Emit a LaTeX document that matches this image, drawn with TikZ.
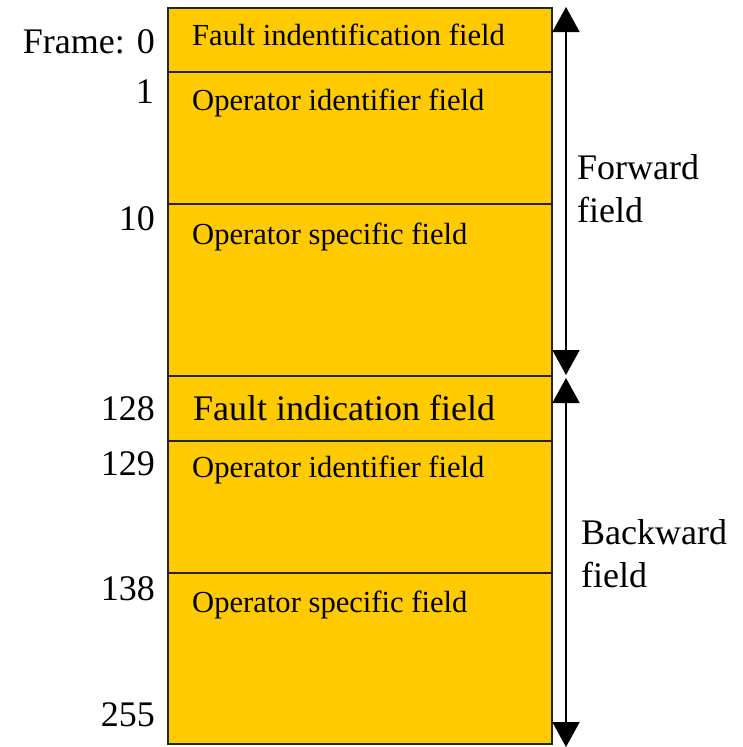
\documentclass[tikz,border=0pt]{standalone}
\usepackage{fontspec}
\setmainfont{LiberationSerif}[Extension=.ttf, UprightFont=*-Regular, BoldFont=*-Bold]
\usetikzlibrary{arrows.meta}
\definecolor{fieldfill}{RGB}{255,202,0}
\tikzset{
  field/.style={draw=black!85, line width=1.8pt, fill=fieldfill, inner sep=0pt,
                minimum width=384pt, anchor=north west},
  fieldtext/.style={inner sep=0pt, anchor=base west, font=\fontsize{30.6}{34}\selectfont},
  bigtext/.style={inner sep=0pt, anchor=base west, font=\fontsize{36}{40}\selectfont},
  framelabel/.style={inner sep=0pt, anchor=base east, font=\fontsize{36}{40}\selectfont},
  sidelabel/.style={inner sep=0pt, anchor=base west, align=left,
                    font=\fontsize{36}{43}\selectfont},
  span/.style={line width=1.8pt, {Triangle[length=25pt,width=27pt]}-{Triangle[length=25pt,width=27pt]}}
}
\begin{document}
\begin{tikzpicture}[x=1pt,y=-1pt]
\useasboundingbox (0,0) rectangle (742,747);

% frame fields, top to bottom
\node[field, minimum height=64pt]  (f0) at (167,7)   {};
\node[field, minimum height=132pt] (f1) at (167,71)  {};
\node[field, minimum height=172pt] (f2) at (167,203) {};
\node[field, minimum height=65pt]  (f3) at (167,375) {};
\node[field, minimum height=132pt] (f4) at (167,440) {};
\node[field, minimum height=171pt] (f5) at (167,572) {};

% field names
\node[fieldtext] (t0) at (192,45)  {Fault indentification field};
\node[fieldtext] (t1) at (192,110) {Operator identifier field};
\node[fieldtext] (t2) at (192,244) {Operator specific field};
\node[bigtext]   (t3) at (193,420) {Fault indication field};
\node[fieldtext] (t4) at (192,477) {Operator identifier field};
\node[fieldtext] (t5) at (192,612) {Operator specific field};

% frame numbers
\node[framelabel] (n0) at (155,53)  {Frame: 0};
\node[framelabel] (n1) at (154,103) {1};
\node[framelabel] (n2) at (155,230) {10};
\node[framelabel] (n3) at (155,420) {128};
\node[framelabel] (n4) at (155,475) {129};
\node[framelabel] (n5) at (155,600) {138};
\node[framelabel] (n6) at (155,726) {255};

% extent of the forward and backward fields
\coordinate (fwdtop) at (566,7);
\coordinate (fwdbot) at (566,375);
\coordinate (bwdtop) at (566,378);
\coordinate (bwdbot) at (566,747);
\draw[span] (fwdbot) -- (fwdtop);
\draw[span] (bwdtop) -- (bwdbot);

% two-line labels: the base anchor sits on the second line
\node[sidelabel] (fwd) at (577,222) {Forward\\field};
\node[sidelabel] (bwd) at (581,587) {Backward\\field};
\end{tikzpicture}
\end{document}
